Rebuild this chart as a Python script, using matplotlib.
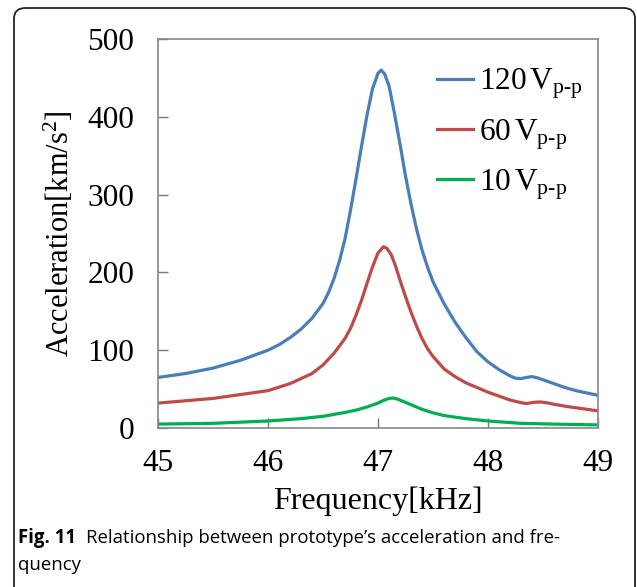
import matplotlib.pyplot as plt
from matplotlib.patches import FancyBboxPatch

# data
freq_120 = [45.0, 45.25, 45.5, 45.75, 46.0, 46.1, 46.2, 46.3, 46.4, 46.5, 46.55, 46.6, 46.65,
            46.7, 46.75, 46.8, 46.85, 46.9, 46.95, 47.0, 47.03, 47.06, 47.1, 47.15, 47.2,
            47.25, 47.3, 47.35, 47.4, 47.45, 47.5, 47.6, 47.7, 47.8, 47.9, 48.0, 48.1,
            48.2, 48.25, 48.3, 48.35, 48.4, 48.45, 48.5, 48.6, 48.7, 48.8, 48.9, 49.0]
acc_120 = [65, 70, 77, 87, 100, 107, 116, 127, 141, 160, 174, 192, 215,
           243, 280, 320, 362, 402, 436, 456, 460, 455, 440, 404, 365,
           324, 288, 256, 229, 207, 188, 160, 136, 116, 98, 85, 75,
           67, 64, 63.5, 65, 66, 64.5, 62, 57, 52, 48, 45, 42]

freq_60 = [45.0, 45.5, 46.0, 46.2, 46.4, 46.5, 46.6, 46.7, 46.75, 46.8, 46.85, 46.9, 46.95,
           47.0, 47.05, 47.08, 47.12, 47.16, 47.2, 47.25, 47.3, 47.35, 47.4, 47.45, 47.5,
           47.6, 47.7, 47.8, 47.9, 48.0, 48.1, 48.2, 48.3, 48.35, 48.42, 48.48, 48.55,
           48.6, 48.7, 48.8, 48.9, 49.0]
acc_60 = [32, 38, 48, 57, 70, 81, 96, 115, 128, 145, 164, 186, 207,
          225, 233, 231, 223, 208, 190, 169, 149, 131, 115, 102, 92,
          76, 66, 58, 52, 46, 41, 36, 32.5, 31.5, 33, 33.5, 32,
          30.5, 28, 26, 24, 22]

freq_10 = [45.0, 45.5, 46.0, 46.3, 46.5, 46.7, 46.8, 46.9, 47.0, 47.05, 47.1, 47.14, 47.18,
           47.25, 47.3, 47.4, 47.5, 47.6, 47.7, 47.8, 48.0, 48.3, 48.6, 49.0]
acc_10 = [5, 6, 9, 12, 15, 20, 23, 27, 32, 35.5, 38, 38.5, 37,
          33, 30, 24, 19.5, 16, 14, 12, 9, 6, 5, 4]

labels = ['120$\\,$V$_{\\mathrm{p‐p}}$', '60$\\,$V$_{\\mathrm{p‐p}}$', '10$\\,$V$_{\\mathrm{p‐p}}$']
colors = ['#4a7ebb', '#be4b48', '#00b050']

plt.rcParams['font.family'] = 'Liberation Serif'
plt.rcParams['mathtext.fontset'] = 'custom'
plt.rcParams['mathtext.rm'] = 'Liberation Serif'
plt.rcParams['mathtext.it'] = 'Liberation Serif:italic'

fig = plt.figure(figsize=(6.37, 5.87), dpi=100)

# rounded frame around the figure (cut at the bottom)
frame = FancyBboxPatch((14 / 637, -0.05), 621 / 637, 1 - 8 / 587 + 0.05,
                       boxstyle='round,pad=0,rounding_size=0.018',
                       transform=fig.transFigure, fill=False, lw=1.3, ec='#222222')
fig.patches.append(frame)

ax = fig.add_axes([158 / 637, 159 / 587, 440 / 637, 389 / 587])

for f, a, lab, c in zip([freq_120, freq_60, freq_10], [acc_120, acc_60, acc_10], labels, colors):
    ax.plot(f, a, color=c, lw=2.3, label=lab, solid_joinstyle='round')

ax.set_xlim(45, 49)
ax.set_ylim(0, 500)
ax.set_xticks([45, 46, 47, 48, 49])
ax.set_yticks([0, 100, 200, 300, 400, 500])
ax.tick_params(direction='in', length=7, width=1, color='#777777', labelsize=22.5)
ax.tick_params(axis='y', pad=17)
ax.tick_params(axis='x', pad=15)
for s in ax.spines.values():
    s.set_color('#888888')
    s.set_linewidth(1.2)

ax.set_xlabel('Frequency[kHz]', fontsize=23, labelpad=6)
ax.set_ylabel('Acceleration[km/s$^2$]', fontsize=22, labelpad=8)

ax.legend(loc='upper right', frameon=False, fontsize=22.5, handlelength=1.15,
          handletextpad=0.2, labelspacing=0.5, borderaxespad=0.3,
          bbox_to_anchor=(1.015, 0.985))

# caption
cap_y = 1 - 543 / 587
t1 = fig.text(18 / 637, cap_y, 'Fig. 11', fontsize=13.4, fontweight='bold',
              family='Open Sans', va='baseline')
fig.canvas.draw()
bb = t1.get_window_extent()
x2 = (bb.x1 + 10) / fig.bbox.width
fig.text(x2, cap_y, 'Relationship between prototype\u2019s acceleration and fre-',
         fontsize=13.4, family='Open Sans', va='baseline')
fig.text(18 / 637, 1 - 570 / 587, 'quency', fontsize=13.4, family='Open Sans', va='baseline')

fig.savefig('out.png', dpi=100)
